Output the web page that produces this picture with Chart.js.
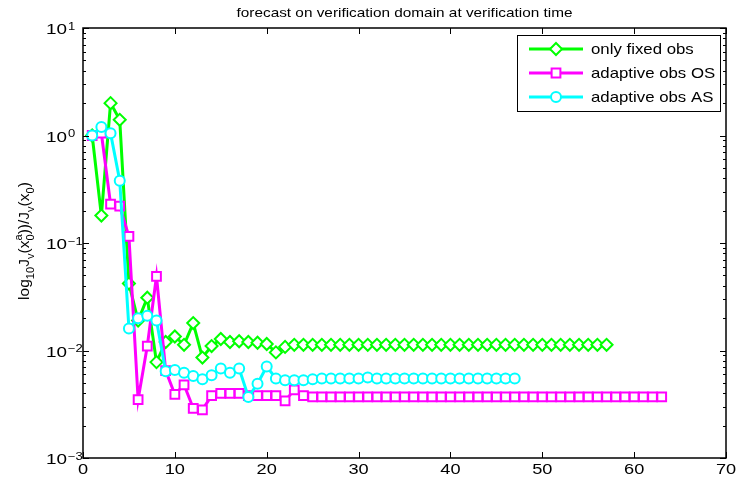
<!DOCTYPE html>
<html>
<head>
<meta charset="utf-8">
<script src="https://cdn.jsdelivr.net/npm/chart.js@4/dist/chart.umd.min.js"></script>
<style>
  html, body { margin: 0; padding: 0; background: #fff; }
  canvas { display: block; }
</style>
</head>
<body>
<canvas id="forecastChart" width="738" height="485"></canvas>
<script>
// values, iteration 1..N
const fixedObs = [
  1.0, 0.18, 2.0, 1.4, 0.042, 0.019, 0.031, 0.0078, 0.012, 0.0135,
  0.0113, 0.018, 0.0086, 0.011, 0.0128, 0.012, 0.0122, 0.012, 0.0118, 0.0115,
  0.0096, 0.0108, 0.0113, 0.0113, 0.0113, 0.0113, 0.0113, 0.0113, 0.0113, 0.0113,
  0.0113, 0.0113, 0.0113, 0.0113, 0.0113, 0.0113, 0.0113, 0.0113, 0.0113, 0.0113,
  0.0113, 0.0113, 0.0113, 0.0113, 0.0113, 0.0113, 0.0113, 0.0113, 0.0113, 0.0113,
  0.0113, 0.0113, 0.0113, 0.0113, 0.0113, 0.0113, 0.0113
];
const adaptiveOS = [
  1.0, 1.05, 0.23, 0.22, 0.115, 0.0035, 0.011, 0.049, 0.0065, 0.0039,
  0.0048, 0.0029, 0.0028, 0.0038, 0.0040, 0.0040, 0.0040, 0.0038, 0.0038, 0.0038,
  0.0038, 0.0034, 0.0043, 0.0038, 0.0037, 0.0037, 0.0037, 0.0037, 0.0037, 0.0037,
  0.0037, 0.0037, 0.0037, 0.0037, 0.0037, 0.0037, 0.0037, 0.0037, 0.0037, 0.0037,
  0.0037, 0.0037, 0.0037, 0.0037, 0.0037, 0.0037, 0.0037, 0.0037, 0.0037, 0.0037,
  0.0037, 0.0037, 0.0037, 0.0037, 0.0037, 0.0037, 0.0037, 0.0037, 0.0037, 0.0037,
  0.0037, 0.0037, 0.0037
];
const adaptiveAS = [
  1.0, 1.2, 1.05, 0.38, 0.016, 0.020, 0.021, 0.019, 0.0064, 0.0066,
  0.0062, 0.0058, 0.0054, 0.0059, 0.0068, 0.0062, 0.0068, 0.0037, 0.0049, 0.0071,
  0.0055, 0.0053, 0.0053, 0.0053, 0.0054, 0.0055, 0.0055, 0.0055, 0.0055, 0.0055,
  0.0056, 0.0055, 0.0055, 0.0055, 0.0055, 0.0055, 0.0055, 0.0055, 0.0055, 0.0055,
  0.0055, 0.0055, 0.0055, 0.0055, 0.0055, 0.0055, 0.0055
];
const seriesNames = ['only fixed obs', 'adaptive obs OS', 'adaptive obs AS'];
const xTicks = [0, 10, 20, 30, 40, 50, 60, 70];
const yExponents = [-3, -2, -1, 0, 1];

const FONT = 'Arial, "Liberation Sans", sans-serif';
const toPoints = arr => arr.map((v, i) => ({ x: i + 1, y: v }));

// text a bit wider than the font, like the stretched matlab export
const wideText = (ctx, text, x, y, size, sx, align) => {
  ctx.save();
  ctx.font = `${size}px ${FONT}`;
  ctx.textAlign = 'left';
  const w = ctx.measureText(text).width * sx;
  let x0 = x;
  if (align === 'center') x0 = x - w / 2;
  if (align === 'right') x0 = x - w;
  ctx.translate(x0, y);
  ctx.scale(sx, 1);
  ctx.fillText(text, 0, 0);
  ctx.restore();
  return w;
};

// runs of text with sub/superscripts, baseline at (x, y)
const drawRich = (ctx, runs, x, y, size) => {
  let cx = x;
  runs.forEach(r => {
    if (r.sub !== undefined || r.sup !== undefined) {
      ctx.font = `${size * 0.72}px ${FONT}`;
      let w = 0;
      if (r.sub !== undefined) { ctx.fillText(r.sub, cx, y + size * 0.3); w = ctx.measureText(r.sub).width; }
      if (r.sup !== undefined) { ctx.fillText(r.sup, cx, y - size * 0.45); w = Math.max(w, ctx.measureText(r.sup).width); }
      cx += w;
    } else {
      ctx.font = `${size}px ${FONT}`;
      ctx.fillText(r.t, cx, y);
      cx += ctx.measureText(r.t).width;
    }
  });
  return cx - x;
};
const measureRich = (ctx, runs, size) => {
  let w = 0;
  runs.forEach(r => {
    if (r.sub !== undefined || r.sup !== undefined) {
      ctx.font = `${size * 0.72}px ${FONT}`;
      w += Math.max(r.sub !== undefined ? ctx.measureText(r.sub).width : 0, r.sup !== undefined ? ctx.measureText(r.sup).width : 0);
    } else {
      ctx.font = `${size}px ${FONT}`;
      w += ctx.measureText(r.t).width;
    }
  });
  return w;
};

const drawMarker = (ctx, style, x, y, r, color) => {
  ctx.save();
  ctx.strokeStyle = color;
  ctx.fillStyle = '#fff';
  ctx.lineWidth = 2;
  ctx.beginPath();
  if (style === 'rectRot') {
    ctx.moveTo(x, y - r); ctx.lineTo(x + r, y); ctx.lineTo(x, y + r); ctx.lineTo(x - r, y); ctx.closePath();
  } else if (style === 'rect') {
    const s = r * Math.SQRT1_2;
    ctx.rect(x - s, y - s, 2 * s, 2 * s);
  } else {
    ctx.arc(x, y, r, 0, Math.PI * 2);
  }
  ctx.fill();
  ctx.stroke();
  ctx.restore();
};

const matlabAxes = {
  id: 'matlabAxes',
  afterDraw(chart) {
    const { ctx, chartArea: a, scales } = chart;
    const xs = scales.x, ys = scales.y;
    ctx.save();
    ctx.strokeStyle = '#000';
    ctx.fillStyle = '#000';
    ctx.lineWidth = 1;

    // inward ticks on all four sides
    ctx.beginPath();
    xTicks.forEach(t => {
      const px = Math.round(xs.getPixelForValue(t)) + 0.5;
      ctx.moveTo(px, a.bottom); ctx.lineTo(px, a.bottom - 6);
      ctx.moveTo(px, a.top); ctx.lineTo(px, a.top + 6);
    });
    yExponents.forEach((e, i) => {
      const major = Math.round(ys.getPixelForValue(Math.pow(10, e))) + 0.5;
      ctx.moveTo(a.left, major); ctx.lineTo(a.left + 6, major);
      ctx.moveTo(a.right, major); ctx.lineTo(a.right - 6, major);
      if (i < yExponents.length - 1) {
        for (let m = 2; m <= 9; m++) {
          const py = Math.round(ys.getPixelForValue(m * Math.pow(10, e))) + 0.5;
          ctx.moveTo(a.left, py); ctx.lineTo(a.left + 3, py);
          ctx.moveTo(a.right, py); ctx.lineTo(a.right - 3, py);
        }
      }
    });
    ctx.stroke();

    // box
    ctx.lineWidth = 1.5;
    ctx.strokeRect(a.left, a.top, a.right - a.left, a.bottom - a.top);

    // x tick labels
    xTicks.forEach(t => wideText(ctx, String(t), xs.getPixelForValue(t), a.bottom + 16, 14, 1.3, 'center'));

    // y tick labels 10^e, left aligned like matlab
    yExponents.forEach(e => {
      const py = ys.getPixelForValue(Math.pow(10, e));
      const w = wideText(ctx, '10', 46, py + 6, 14, 1.35, 'left');
      wideText(ctx, String(e).replace('-', '\u2212'), 46 + w + 1, py + 1.5, 10, 1.3, 'left');
    });

    // title
    wideText(ctx, 'forecast on verification domain at verification time', (a.left + a.right) / 2, 17, 13, 1.18, 'center');

    // y axis title
    const yTitle = [
      { t: 'log' }, { sub: '10' }, { t: 'J' }, { sub: 'v' }, { t: '(x' }, { sub: '0', sup: 'a' },
      { t: '))/J' }, { sub: 'v' }, { t: '(x' }, { sub: '0' }, { t: ')' }
    ];
    ctx.save();
    ctx.translate(29, (a.top + a.bottom) / 2 - 2);
    ctx.rotate(-Math.PI / 2);
    ctx.textAlign = 'left';
    const tw = measureRich(ctx, yTitle, 15.5);
    drawRich(ctx, yTitle, -tw / 2, 0, 15.5);
    ctx.restore();

    // legend
    const lx = 517, ly = 35, lw = 203, lh = 76;
    ctx.fillStyle = '#fff';
    ctx.fillRect(lx, ly, lw, lh);
    ctx.lineWidth = 1;
    ctx.strokeStyle = '#000';
    ctx.strokeRect(lx + 0.5, ly + 0.5, lw, lh);
    chart.data.datasets.forEach((ds, i) => {
      const cy = ly + 14 + i * 24;
      ctx.strokeStyle = ds.borderColor;
      ctx.lineWidth = 3;
      ctx.beginPath();
      ctx.moveTo(lx + 12, cy); ctx.lineTo(lx + 66, cy);
      ctx.stroke();
      drawMarker(ctx, ds.pointStyle, lx + 39, cy, ds.pointRadius, ds.borderColor);
      ctx.fillStyle = '#000';
      wideText(ctx, seriesNames[i], lx + 74, cy + 5, 15, 1.12, 'left');
    });
    ctx.restore();
  }
};

const ctx = document.getElementById('forecastChart').getContext('2d');
new Chart(ctx, {
  type: 'line',
  data: {
    datasets: [
      {
        label: seriesNames[0],
        data: toPoints(fixedObs),
        borderColor: '#00ff00',
        borderWidth: 3,
        pointStyle: 'rectRot',
        pointRadius: 6,
        pointBorderWidth: 2,
        pointBackgroundColor: '#fff',
        order: 2
      },
      {
        label: seriesNames[1],
        data: toPoints(adaptiveOS),
        borderColor: '#ff00ff',
        borderWidth: 3,
        pointStyle: 'rect',
        pointRadius: 6.2,
        pointBorderWidth: 2,
        pointBackgroundColor: '#fff',
        order: 1
      },
      {
        label: seriesNames[2],
        data: toPoints(adaptiveAS),
        borderColor: '#00ffff',
        borderWidth: 3,
        pointStyle: 'circle',
        pointRadius: 5,
        pointBorderWidth: 2,
        pointBackgroundColor: '#fff',
        order: 0
      }
    ]
  },
  options: {
    responsive: false,
    animation: false,
    layout: { padding: { left: 83, right: 12, top: 28, bottom: 27 } },
    plugins: { legend: { display: false }, tooltip: { enabled: false }, title: { display: false } },
    scales: {
      x: { type: 'linear', min: 0, max: 70, display: false },
      y: { type: 'logarithmic', min: 0.001, max: 10, display: false }
    }
  },
  plugins: [matlabAxes]
});
</script>
</body>
</html>
